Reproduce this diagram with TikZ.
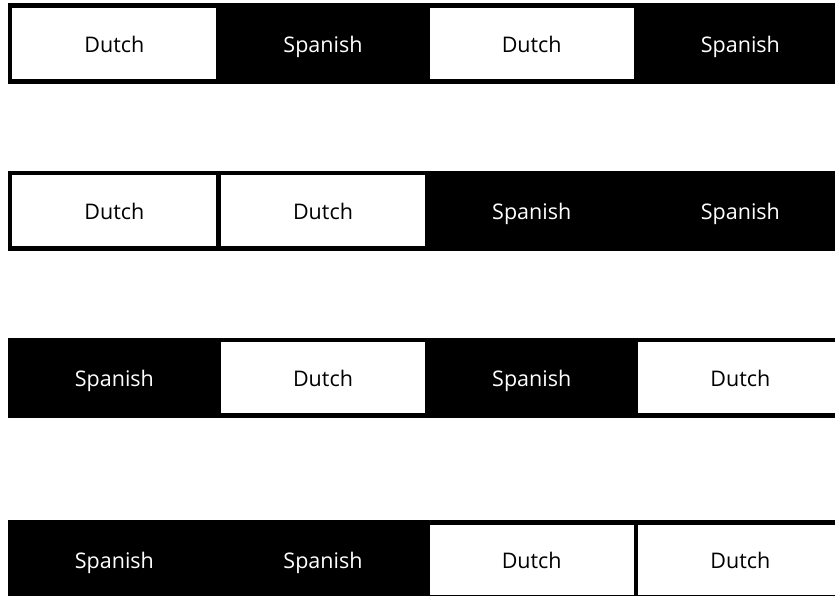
\documentclass[tikz,border=0pt]{standalone}
\usepackage{fontspec}
\setmainfont{Open Sans}
\begin{document}
\begin{tikzpicture}[x=1pt,y=-1pt,
  cellbase/.style={draw=black,line width=4.6pt,minimum width=208.7pt,minimum height=75.5pt,inner sep=0pt,
    text height=22pt,text depth=4.4pt,
    font=\fontsize{21.5}{25}\selectfont},
  dutch/.style={cellbase,fill=white,text=black},
  spanish/.style={cellbase,fill=black,text=white}]
\useasboundingbox (0,0) rectangle (835,596);
% row 1
\node[dutch]   (r1c1) at (114.4,43.5) {Dutch};
\node[spanish] (r1c2) at (323.0,43.5) {Spanish};
\node[dutch]   (r1c3) at (531.7,43.5) {Dutch};
\node[spanish] (r1c4) at (740.4,43.5) {Spanish};
% row 2
\node[dutch]   (r2c1) at (114.4,210.8) {Dutch};
\node[dutch]   (r2c2) at (323.0,210.8) {Dutch};
\node[spanish] (r2c3) at (531.7,210.8) {Spanish};
\node[spanish] (r2c4) at (740.4,210.8) {Spanish};
% row 3
\node[spanish] (r3c1) at (114.4,377.8) {Spanish};
\node[dutch]   (r3c2) at (323.0,377.8) {Dutch};
\node[spanish] (r3c3) at (531.7,377.8) {Spanish};
\node[dutch]   (r3c4) at (740.4,377.8) {Dutch};
% row 4
\node[spanish] (r4c1) at (114.4,560.0) {Spanish};
\node[spanish] (r4c2) at (323.0,560.0) {Spanish};
\node[dutch]   (r4c3) at (531.7,560.0) {Dutch};
\node[dutch]   (r4c4) at (740.4,560.0) {Dutch};
\end{tikzpicture}
\end{document}
